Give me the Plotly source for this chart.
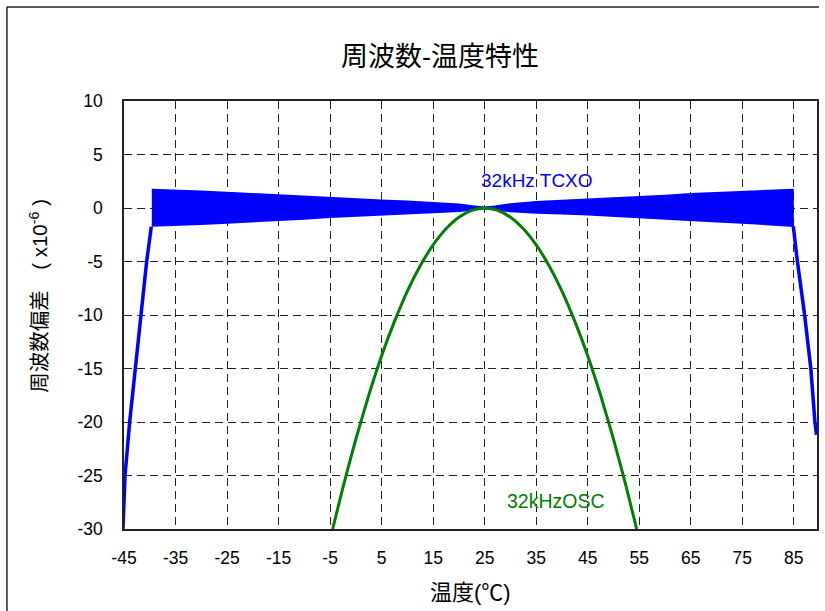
import plotly.graph_objects as go

# ---- data ----
x_ticks = [-45, -35, -25, -15, -5, 5, 15, 25, 35, 45, 55, 65, 75, 85]
y_ticks = [10, 5, 0, -5, -10, -15, -20, -25, -30]

# 32kHz TCXO: steep ramps at both ends
tcxo_left_temp = [-45.2, -44.8, -43.9, -42.8, -41.65, -40.6, -39.7]
tcxo_left_dev = [-30, -25, -20, -15, -10, -5, -1.75]
tcxo_right_temp = [84.9, 85.7, 87.1, 88.3, 89.1, 89.4]
tcxo_right_dev = [-1.7, -5, -10, -15, -20, -21.2]

# 32kHz TCXO: envelope of the dense compensation ripple
band_temp = [-39.6, -35, -30, -25, -20, -15, -10, -5, 0, 5, 10, 15, 20, 23, 25,
             27, 30, 35, 40, 45, 50, 55, 60, 65, 70, 75, 80, 84.8]
band_upper = [1.7, 1.65, 1.55, 1.43, 1.3, 1.18, 1.03, 0.9, 0.8, 0.7, 0.6, 0.48, 0.32, 0.15, 0.05,
              0.15, 0.35, 0.55, 0.7, 0.8, 0.9, 1.0, 1.15, 1.3, 1.4, 1.45, 1.55, 1.7]
band_lower = [-1.65, -1.6, -1.5, -1.37, -1.22, -1.1, -1.0, -0.85, -0.72, -0.6, -0.5, -0.4, -0.28, -0.15, -0.05,
              -0.12, -0.3, -0.45, -0.52, -0.6, -0.7, -0.82, -0.98, -1.12, -1.25, -1.37, -1.5, -1.68]

# 32kHz OSC (tuning fork)
osc_temp = [-4.5, -2.5, 0, 2.5, 5, 7.5, 10, 12.5, 15, 17.5, 20, 22.5, 25,
            27.5, 30, 32.5, 35, 37.5, 40, 42.5, 45, 47.5, 50, 52.5, 54.5]
osc_dev = [-30.0, -26.1, -21.6, -17.5, -13.8, -10.6, -7.76, -5.39, -3.45, -1.94, -0.86, -0.22, 0.0,
           -0.22, -0.86, -1.94, -3.45, -5.39, -7.76, -10.6, -13.8, -17.5, -21.6, -26.1, -30.0]

BLUE = "#0000FF"
GREEN = "#008000"
FONT = "Liberation Sans, Noto Sans CJK JP"

fig = go.Figure()

poly_x = band_temp + band_temp[::-1]
poly_y = band_upper + band_lower[::-1]
fig.add_trace(go.Scatter(x=poly_x, y=poly_y, mode="lines", fill="toself",
                         fillcolor=BLUE, line=dict(color=BLUE, width=2),
                         hoverinfo="skip"))
fig.add_trace(go.Scatter(x=tcxo_left_temp, y=tcxo_left_dev, mode="lines",
                         line=dict(color=BLUE, width=3.5)))
fig.add_trace(go.Scatter(x=tcxo_right_temp, y=tcxo_right_dev, mode="lines",
                         line=dict(color=BLUE, width=3.5)))
fig.add_trace(go.Scatter(x=osc_temp, y=osc_dev, mode="lines",
                         line=dict(color=GREEN, width=3, shape="spline", smoothing=0.6)))

L, R, T, B = 123.5, 6, 101, 82
PW, PH = 825 - L - R, 611 - T - B


def px(xp):
    return (xp - L) / PW


def py(yp):
    return (611 - B - yp) / PH


fig.update_layout(
    width=825, height=611,
    margin=dict(l=L, r=R, t=T, b=B),
    plot_bgcolor="white", paper_bgcolor="white",
    showlegend=False,
    font=dict(family=FONT, color="black", size=16),
    title=dict(text="周波数-温度特性", x=440 / 825, xref="container", xanchor="center",
               y=1 - 57 / 611, yref="container", yanchor="middle",
               font=dict(family=FONT, size=27, color="black")),
)

fig.update_xaxes(range=[-45, 89.5], tickmode="array", tickvals=x_ticks,
                 ticktext=[str(v) for v in x_ticks],
                 showgrid=True, gridcolor="#222", gridwidth=1, griddash="8px,5px",
                 showline=True, mirror=True, linecolor="#222", linewidth=1.5,
                 ticks="", zeroline=False, ticklabelstandoff=12,
                 tickfont=dict(family=FONT, size=17.5, color="black"))
fig.update_yaxes(range=[-30, 10], tickmode="array", tickvals=y_ticks,
                 ticktext=[str(v) for v in y_ticks],
                 showgrid=True, gridcolor="#222", gridwidth=1, griddash="8px,5px",
                 showline=True, mirror=True, linecolor="#222", linewidth=1.5,
                 ticks="", zeroline=False, ticklabelstandoff=16,
                 tickfont=dict(family=FONT, size=17.5, color="black"))

fig.add_annotation(x=35.2, y=2.55, xref="x", yref="y", text="32kHz TCXO", showarrow=False,
                   font=dict(family=FONT, size=19, color=BLUE))
fig.add_annotation(x=38.9, y=-27.35, xref="x", yref="y", text="32kHzOSC", showarrow=False,
                   font=dict(family=FONT, size=19.5, color=GREEN))

fig.add_annotation(x=0.5, y=py(592), xref="paper", yref="paper", text="温度(℃)",
                   showarrow=False, xanchor="center", yanchor="middle",
                   font=dict(family=FONT, size=22, color="black"))
fig.add_annotation(x=px(38), y=py(296), xref="paper", yref="paper",
                   text="周波数偏差　( x10<sup>-6</sup> )", textangle=-90,
                   showarrow=False, xanchor="center", yanchor="middle",
                   font=dict(family=FONT, size=20.5, color="black"))

# outer frame (top and left edges visible in the reference)
fig.add_shape(type="line", xref="paper", yref="paper", x0=px(6), y0=py(7), x1=px(821), y1=py(7),
              line=dict(color="#222", width=1.5))
fig.add_shape(type="line", xref="paper", yref="paper", x0=px(6), y0=py(7), x1=px(6), y1=py(620),
              line=dict(color="#222", width=1.5))

fig.write_html("out.html", config={"displayModeBar": False},
               post_script="document.body.style.margin='0';document.body.style.overflow='hidden';")
